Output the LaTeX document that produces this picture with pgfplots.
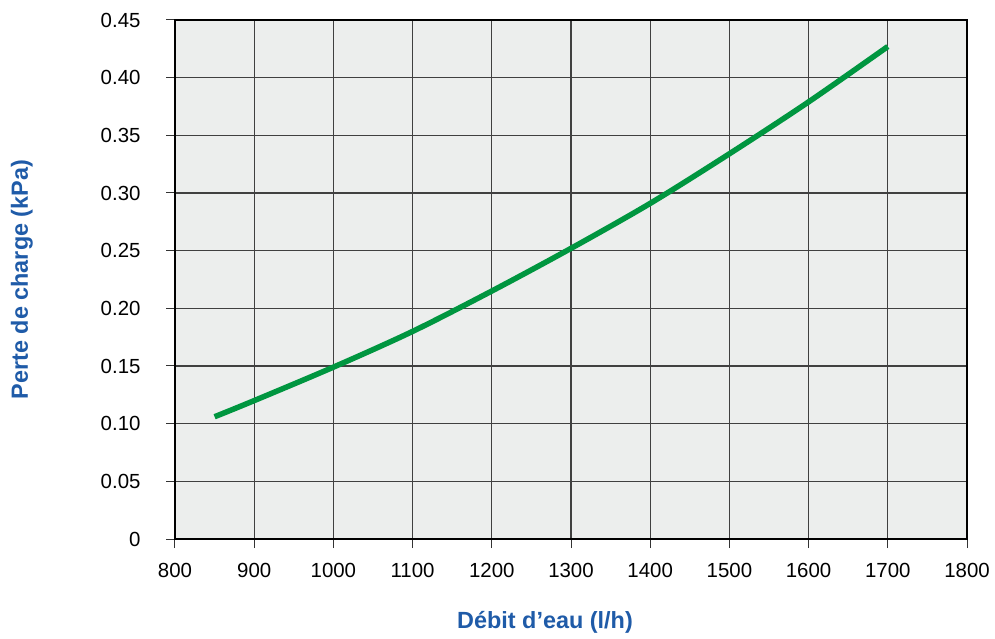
\documentclass[border=0pt]{standalone}
\usepackage{pgfplots}
\pgfplotsset{compat=1.18}
\usepackage{fontspec}
\setmainfont{Liberation Sans}
\definecolor{bgc}{HTML}{ECEEED}
\definecolor{curve}{HTML}{009640}
\definecolor{labc}{HTML}{1F5BA8}
\begin{document}
\begin{tikzpicture}
\begin{axis}[
  name=ax,
  scale only axis,
  width=792bp, height=519bp,
  xmin=800, xmax=1800, ymin=0, ymax=0.45,
  xtick={800,900,...,1800},
  ytick={0,0.05,...,0.45},
  yticklabels={0,0.05,0.10,0.15,0.20,0.25,0.30,0.35,0.40,0.45},
  axis background/.style={fill=bgc},
  grid=major,
  major grid style={line width=1.1bp, black!75},
  axis line style={line width=1.2bp, black},
  tick align=outside,
  major tick length=9bp,
  tick style={line width=1bp, black!80},
  xtick pos=bottom, ytick pos=left,
  /pgf/number format/assume math mode=true,
  /pgf/number format/set thousands separator={},
  ticklabel style={font=\fontsize{20.5}{23}\selectfont},
  xticklabel style={yshift=-12bp},
  yticklabel style={xshift=-22bp},
  xlabel={\bfseries\color{labc}D\'ebit d’eau (l/h)},
  ylabel={\bfseries\color{labc}Perte de charge (kPa)},
  label style={font=\fontsize{23.5}{26}\selectfont},
  xlabel style={at={(axis description cs:0.5,0)}, anchor=center, yshift=-83bp, xshift=-26bp},
  ylabel style={at={(axis description cs:0,0.5)}, anchor=center, yshift=153bp},
  clip=false,
]
\addplot[curve, line width=5.5bp, smooth] table {
x y
850 0.106
900 0.120
1000 0.149
1100 0.180
1200 0.215
1300 0.252
1400 0.291
1500 0.334
1600 0.379
1700 0.427
};
\end{axis}
\pgfresetboundingbox
\path[use as bounding box] ([shift={(-175bp,-100bp)}]ax.south west) rectangle ([shift={(28bp,20bp)}]ax.north east);
\end{tikzpicture}
\end{document}
